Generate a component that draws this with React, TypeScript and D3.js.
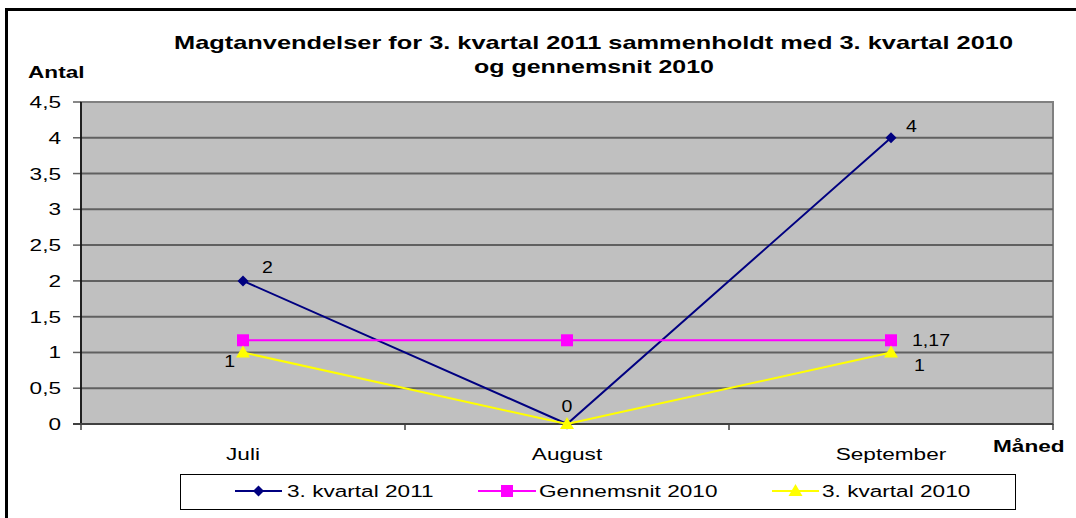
import React from "react";
import * as d3 from "d3";

const months = ["Juli", "August", "September"];
const kvartal2011 = [2, 0, 4];
const gennemsnit2010 = [1.17, 1.17, 1.17];
const kvartal2010 = [1, 0, 1];
const yTicks = [0, 0.5, 1, 1.5, 2, 2.5, 3, 3.5, 4, 4.5];
const titleLines = [
  "Magtanvendelser for 3. kvartal 2011 sammenholdt med 3. kvartal 2010",
  "og gennemsnit 2010",
];
const seriesNames = ["3. kvartal 2011", "Gennemsnit 2010", "3. kvartal 2010"];

const W = 1076;
const H = 518;
const SX = 1.33;
const FONT = "'Liberation Sans', Arial, sans-serif";
const PL = 81, PR = 1053, PT = 102, PB = 424;

const fmt = (v: number) => String(v).replace(".", ",");

const T = ({ x, y, anchor = "start", size = 17, bold = false, sx = SX, children }: any) => (
  <text
    transform={`translate(${x},${y}) scale(${sx},1)`}
    textAnchor={anchor}
    fontFamily={FONT}
    fontSize={size}
    fontWeight={bold ? "bold" : "normal"}
    fill="#000"
  >
    {children}
  </text>
);

const Diamond = ({ x, y, c }: any) => (
  <path d={`M${x},${y - 5.5}L${x + 5.5},${y}L${x},${y + 5.5}L${x - 5.5},${y}Z`} fill={c} />
);
const Square = ({ x, y, c }: any) => <rect x={x - 6} y={y - 6} width={12} height={12} fill={c} />;
const Tri = ({ x, y, c }: any) => (
  <path d={`M${x},${y - 7}L${x + 7},${y + 5}L${x - 7},${y + 5}Z`} fill={c} />
);

export default function App() {
  const x = d3.scaleBand<string>().domain(months).range([PL, PR]);
  const y = d3.scaleLinear().domain([0, 4.5]).range([PB, PT]);
  const cx = (m: string) => (x(m) as number) + x.bandwidth() / 2;
  const line = d3
    .line<number>()
    .x((_, i) => cx(months[i]))
    .y((d) => y(d));

  const series = [
    { name: seriesNames[0], values: kvartal2011, color: "#000080", M: Diamond },
    { name: seriesNames[1], values: gennemsnit2010, color: "#FF00FF", M: Square },
    { name: seriesNames[2], values: kvartal2010, color: "#FFFF00", M: Tri },
  ];

  // data label placements: [seriesIndex, pointIndex, dx, dy, anchor]
  const labels: [number, number, number, number, string][] = [
    [0, 0, 19, -8, "start"],
    [0, 1, 0, -12, "middle"],
    [0, 2, 15, -6, "start"],
    [1, 2, 21, 6, "start"],
    [2, 0, -8, 15, "end"],
    [2, 2, 23, 19, "start"],
  ];

  const xTickPos = [PL, ...months.map((m) => (x(m) as number) + x.bandwidth())];

  const legendItems = [
    { lx: 235, tx: 287 },
    { lx: 478, tx: 539 },
    { lx: 772, tx: 822 },
  ];
  const legendY = 491;

  return (
    <svg width={W} height={H} style={{ position: "absolute", left: 0, top: 0, background: "#fff" }}>
      <rect x={0} y={0} width={W} height={H} fill="#fff" />
      {/* outer frame */}
      <rect x={6.5} y={9.5} width={W + 20} height={H + 20} fill="none" stroke="#000" strokeWidth={3} />

      {/* title */}
      {titleLines.map((t, i) => (
        <text
          key={i}
          x={i === 0 ? 174 : 474}
          y={i === 0 ? 49 : 73}
          textLength={i === 0 ? 839 : 240}
          lengthAdjust="spacingAndGlyphs"
          fontFamily={FONT}
          fontSize={19}
          fontWeight="bold"
        >
          {t}
        </text>
      ))}

      {/* plot area */}
      <rect x={PL} y={PT} width={PR - PL} height={PB - PT} fill="#C0C0C0" stroke="#808080" strokeWidth={2} />
      {yTicks.map((t) => (
        <g key={t}>
          {t > 0 && t < 4.5 && (
            <line x1={PL} x2={PR} y1={y(t)} y2={y(t)} stroke="#606060" strokeWidth={2} />
          )}
          <line x1={PL - 8} x2={PL} y1={y(t)} y2={y(t)} stroke="#606060" strokeWidth={1.5} />
          <T x={61} y={y(t) + 6}>
            <tspan textAnchor="end">{fmt(t)}</tspan>
          </T>
        </g>
      ))}
      {/* axes */}
      <line x1={PL} x2={PL} y1={PT} y2={PB} stroke="#000" strokeWidth={1.5} />
      <line x1={PL - 8} x2={PR} y1={PB} y2={PB} stroke="#404040" strokeWidth={2} />
      {xTickPos.map((p, i) => (
        <line key={i} x1={p} x2={p} y1={PB} y2={PB + 6} stroke="#404040" strokeWidth={1.5} />
      ))}
      {months.map((m) => (
        <T key={m} x={cx(m)} y={460} anchor="middle">
          {m}
        </T>
      ))}

      <T x={28} y={78} bold>
        Antal
      </T>
      <T x={993} y={452} bold>
        Måned
      </T>

      {/* series */}
      {series.map((s) => (
        <g key={s.name}>
          <path d={line(s.values) as string} fill="none" stroke={s.color} strokeWidth={2} />
          {s.values.map((v, i) => (
            <s.M key={i} x={cx(months[i])} y={y(v)} c={s.color} />
          ))}
        </g>
      ))}

      {/* data labels */}
      {labels.map(([si, pi, dx, dy, a], k) => (
        <T key={k} x={cx(months[pi]) + dx} y={y(series[si].values[pi]) + dy} anchor={a} size={17} sx={1.15}>
          {fmt(series[si].values[pi])}
        </T>
      ))}

      {/* legend */}
      <rect x={180.5} y={474.5} width={835} height={35} fill="#fff" stroke="#000" strokeWidth={1} />
      {series.map((s, i) => {
        const it = legendItems[i];
        const len = i === 1 ? 58 : 47;
        return (
          <g key={s.name}>
            <line x1={it.lx} x2={it.lx + len} y1={legendY} y2={legendY} stroke={s.color} strokeWidth={2} />
            <s.M x={it.lx + len / 2} y={legendY} c={s.color} />
            <T x={it.tx} y={legendY + 6}>
              {s.name}
            </T>
          </g>
        );
      })}
    </svg>
  );
}
